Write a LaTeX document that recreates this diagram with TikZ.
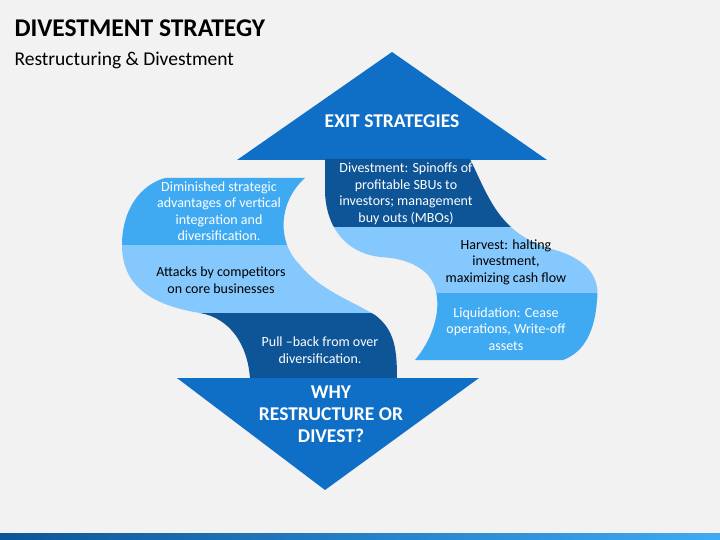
\documentclass[tikz,border=0pt]{standalone}
\usepackage{fontspec}
\setmainfont{Carlito}
\begin{document}
\begin{tikzpicture}[x=1pt,y=-1pt]
\definecolor{bg}{HTML}{F2F2F2}
\definecolor{arr}{HTML}{0F6FC6}
\definecolor{dk}{HTML}{0D5597}
\definecolor{lt}{HTML}{85C8FD}
\definecolor{md}{HTML}{3FAAF2}
\tikzset{wt/.style={text=white,align=center,font=\fontsize{14}{16.5}\selectfont},
bk/.style={text=black,align=center,font=\fontsize{14}{16.5}\selectfont}}
\fill[bg] (0,0) rectangle (720,540);
\useasboundingbox (0,0) rectangle (720,540);
\shade[left color=dk,right color=md] (0,533) rectangle (720,540);
\node[anchor=west,font=\fontsize{25.5}{27}\selectfont\bfseries] (title) at (11,28) {DIVESTMENT STRATEGY};
\node[anchor=west,font=\fontsize{19.5}{21}\selectfont] (sub) at (11,60) {Restructuring \& Divestment};
% up arrow
\fill[arr] (392,52) -- (547,160) -- (237,160) -- cycle;
\node[text=white,font=\fontsize{19.5}{21}\selectfont\bfseries] (exit) at (392,121) {EXIT STRATEGIES};
% right S
\begin{scope}
\clip (325,159) -- (470,159) .. controls (490,200) and (500,235) .. (555,250) .. controls (590,260) and (600,280) .. (597,300) .. controls (595,330) and (585,352) .. (563,360) -- (415,360) .. controls (440,330) and (445,290) .. (425,272) .. controls (410,260) and (395,258) .. (380,257) .. controls (340,252) and (325,220) .. (325,190) -- cycle;
\fill[dk] (300,150) rectangle (620,227);
\fill[lt] (300,227) rectangle (620,293);
\fill[md] (300,293) rectangle (620,370);
\end{scope}
% left S
\begin{scope}
\clip (165,178) -- (305,178) .. controls (280,200) and (275,240) .. (300,265) .. controls (320,290) and (350,300) .. (375,315) .. controls (395,330) and (397,350) .. (397,379) -- (250,379) .. controls (248,345) and (230,318) .. (200,313) .. controls (150,305) and (122,285) .. (122,245) .. controls (122,210) and (140,185) .. (165,178) -- cycle;
\fill[md] (100,170) rectangle (420,245);
\fill[lt] (100,245) rectangle (420,313);
\fill[dk] (100,313) rectangle (420,380);
\end{scope}
% down arrow
\fill[arr] (177,378) -- (479,378) -- (325,490) -- cycle;
\node[text=white,align=center,font=\fontsize{19.5}{22}\selectfont\bfseries] (why) at (331,414) {WHY\\RESTRUCTURE OR\\DIVEST?};
\node[wt] (t1) at (219,211) {Diminished strategic\\advantages of vertical\\integration and\\diversification.};
\node[bk] (t2) at (221,280) {Attacks by competitors\\on core businesses};
\node[wt] (t3) at (320,350) {Pull –back from over\\diversification.};
\node[wt] (t4) at (406,194) {Divestment: Spinoffs of\\profitable SBUs to\\investors; management\\buy outs (MBOs)};
\node[bk] (t5) at (506,262) {Harvest: halting\\investment,\\maximizing cash flow};
\node[wt] (t6) at (506,329) {Liquidation: Cease\\operations, Write-off\\assets};
\end{tikzpicture}
\end{document}
